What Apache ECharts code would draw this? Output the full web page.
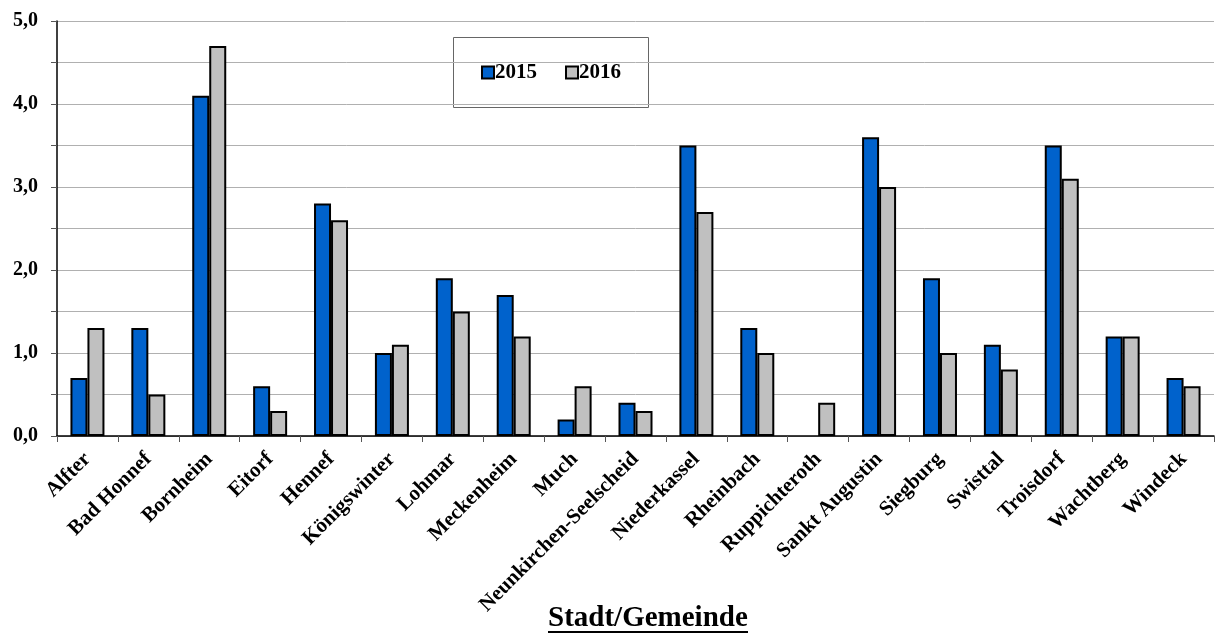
<!DOCTYPE html>
<html>
<head>
<meta charset="utf-8">
<script src="https://cdn.jsdelivr.net/npm/echarts@6/dist/echarts.min.js"></script>
<style>
  html, body { margin: 0; padding: 0; background: #fff; }
  #chart { width: 1220px; height: 635px; }
</style>
</head>
<body>
<div id="chart"></div>
<script>
// Municipalities of the Rhein-Sieg district
const categories = [
  'Alfter', 'Bad Honnef', 'Bornheim', 'Eitorf', 'Hennef', 'Königswinter',
  'Lohmar', 'Meckenheim', 'Much', 'Neunkirchen-Seelscheid', 'Niederkassel',
  'Rheinbach', 'Ruppichteroth', 'Sankt Augustin', 'Siegburg', 'Swisttal',
  'Troisdorf', 'Wachtberg', 'Windeck'
];
const values2015 = [0.7, 1.3, 4.1, 0.6, 2.8, 1.0, 1.9, 1.7, 0.2, 0.4, 3.5, 1.3, null, 3.6, 1.9, 1.1, 3.5, 1.2, 0.7];
const values2016 = [1.3, 0.5, 4.7, 0.3, 2.6, 1.1, 1.5, 1.2, 0.6, 0.3, 2.7, 1.0, 0.4, 3.0, 1.0, 0.8, 3.1, 1.2, 0.6];
const seriesNames = ['2015', '2016'];
const axisTitle = 'Stadt/Gemeinde';

const FONT = '"Liberation Serif", "Times New Roman", serif';

const chart = echarts.init(document.getElementById('chart'), null, { renderer: 'canvas' });

const barStyle = (color) => ({ color: color, borderColor: '#000', borderWidth: 2 });

chart.setOption({
  animation: false,
  backgroundColor: '#fff',
  grid: { left: 57, right: 6, top: 21, bottom: 199, containLabel: false },
  legend: {
    data: seriesNames,
    left: 476,
    top: 57,
    itemWidth: 12,
    itemHeight: 12,
    itemGap: 28,
    textStyle: { fontFamily: FONT, fontWeight: 'bold', fontSize: 21, color: '#000', padding: [0, 0, 0, -4] },
    icon: 'rect'
  },
  xAxis: {
    type: 'category',
    data: categories,
    axisLine: { lineStyle: { color: '#000', width: 1.5 } },
    axisTick: { show: true, alignWithLabel: false, length: 6, lineStyle: { color: '#555' } },
    axisLabel: {
      interval: 0,
      rotate: 45,
      margin: 20,
      fontFamily: FONT,
      fontWeight: 'bold',
      fontSize: 21,
      color: '#000'
    }
  },
  yAxis: {
    type: 'value',
    min: 0,
    max: 5,
    interval: 0.5,
    axisLine: { show: true, lineStyle: { color: '#000', width: 1.5 } },
    axisTick: { show: true, length: 6, lineStyle: { color: '#555' }, interval: (i) => i % 2 === 0 },
    splitLine: { lineStyle: { color: '#b0b0b0', width: 1 } },
    axisLabel: {
      margin: 19,
      fontFamily: FONT,
      fontWeight: 'bold',
      fontSize: 20,
      color: '#000',
      formatter: (v) => (Math.round(v * 10) % 10 === 0 ? v.toFixed(1).replace('.', ',') : '')
    }
  },
  series: [
    {
      name: seriesNames[0],
      type: 'bar',
      data: values2015,
      barWidth: 17,
      barGap: '0%',
      itemStyle: barStyle('#0062CC')
    },
    {
      name: seriesNames[1],
      type: 'bar',
      data: values2016,
      barWidth: 17,
      barGap: '0%',
      itemStyle: barStyle('#C0C0C0')
    }
  ],
  graphic: [
    {
      type: 'rect',
      shape: { x: 453.5, y: 37.5, width: 195, height: 70 },
      style: { fill: '#fff', stroke: '#666', lineWidth: 1 },
      z: 0,
      zlevel: 0
    },
    {
      type: 'text',
      x: 548,
      y: 604,
      style: {
        text: axisTitle,
        fontFamily: FONT,
        fontWeight: 'bold',
        fontSize: 29,
        fill: '#000'
      }
    },
    {
      type: 'rect',
      shape: { x: 548, y: 631, width: 200, height: 2 },
      style: { fill: '#000' }
    }
  ]
});
</script>
</body>
</html>
